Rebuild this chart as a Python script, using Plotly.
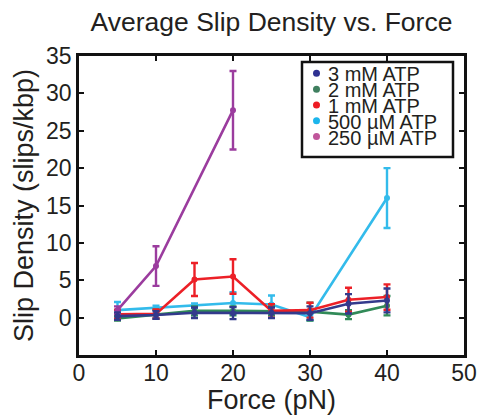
import plotly.graph_objects as go

# ---- data ----
names = ["3 mM ATP", "2 mM ATP", "1 mM ATP", "500 µM ATP", "250 µM ATP"]
colors = ["#333A8C", "#318A58", "#EC2027", "#33BBEB", "#9B3C9E"]
legend_dot_colors = ["#2E3192", "#3F7F5F", "#ED1C24", "#1CB5EC", "#C0569B"]

force_3mM = [5, 10, 15, 20, 25, 30, 35, 40]
slip_3mM = [0.2, 0.35, 0.65, 0.6, 0.65, 0.6, 1.85, 2.3]
err_3mM = [0.5, 0.5, 0.7, 0.8, 0.7, 0.9, 1.3, 1.6]

force_2mM = [5, 10, 15, 20, 25, 30, 35, 40]
slip_2mM = [-0.1, 0.45, 0.9, 0.9, 0.9, 0.8, 0.4, 1.6]
err_2mM = [0.3, 0.6, 0.6, 0.6, 0.6, 1.2, 0.6, 1.3]

force_1mM = [5, 10, 15, 20, 25, 30, 35, 40]
slip_1mM = [0.45, 0.5, 5.1, 5.5, 0.9, 1.0, 2.4, 2.75]
err_1mM = [0.6, 0.6, 2.2, 2.3, 0.9, 1.0, 1.6, 1.7]

force_500uM = [5, 10, 15, 20, 25, 30, 40]
slip_500uM = [1.0, 1.3, 1.6, 1.95, 1.75, 0.05, 16.0]
err_500uM = [1.1, 0.3, 0.3, 1.45, 1.2, 0.4, 4.0]

force_250uM = [5, 10, 20]
slip_250uM = [1.0, 6.9, 27.75]
err_250uM = [0.5, 2.65, 5.25]

x_ticks = [0, 10, 20, 30, 40, 50]
y_ticks = [0, 5, 10, 15, 20, 25, 30, 35]

series = [
    (force_3mM, slip_3mM, err_3mM),
    (force_2mM, slip_2mM, err_2mM),
    (force_1mM, slip_1mM, err_1mM),
    (force_500uM, slip_500uM, err_500uM),
    (force_250uM, slip_250uM, err_250uM),
]

FONT = "Liberation Sans, Arial, sans-serif"
TXT = "#231F20"

fig = go.Figure()
draw_order = [3, 1, 2, 4, 0]
for i in draw_order:
    fx, fy, fe = series[i]
    fig.add_trace(go.Scatter(
        x=fx, y=fy, name=names[i], mode="lines+markers",
        line=dict(color=colors[i], width=2.6),
        marker=dict(color=colors[i], size=6),
        error_y=dict(type="data", array=fe, visible=True, color=colors[i],
                     thickness=2.4, width=3.5),
        showlegend=False,
    ))

# plot-area pixel geometry
L, R, T, B = 79, 464, 56, 355
W, H = 477, 415


def px(x):
    return (x - L) / (R - L)


def py(y):
    return (B - y) / (B - T)


shapes = []
annotations = []
# manual legend box (tight MATLAB-style rows)
shapes.append(dict(type="rect", xref="paper", yref="paper",
                   x0=px(302), x1=px(453), y0=py(157), y1=py(62),
                   line=dict(color="#111", width=2.5), fillcolor="white", layer="above"))
row_y = [73.3, 89.2, 105.0, 120.8, 136.5]
for k, name in enumerate(names):
    cy = row_y[k]
    cx = 316.5
    r = 3.5
    shapes.append(dict(type="circle", xref="paper", yref="paper",
                       x0=px(cx - r), x1=px(cx + r), y0=py(cy + r), y1=py(cy - r),
                       line=dict(width=0), fillcolor=legend_dot_colors[k], layer="above"))
    annotations.append(dict(text=name, xref="paper", yref="paper",
                            x=px(326), y=py(cy + 1), xanchor="left", yanchor="middle",
                            showarrow=False, font=dict(family=FONT, size=20, color=TXT)))

fig.update_layout(
    width=W, height=H,
    margin=dict(l=L, r=W - R, t=T, b=H - B, pad=0),
    paper_bgcolor="white", plot_bgcolor="white",
    title=dict(text="Average Slip Density vs. Force", x=(L + R) / 2 / W, xanchor="center",
               y=1 - 22 / H, yanchor="middle", yref="container",
               font=dict(family=FONT, size=26.5, color=TXT)),
    font=dict(family=FONT, color=TXT),
    shapes=shapes, annotations=annotations,
    showlegend=False,
)
fig.update_xaxes(
    range=[0, 50], tickvals=x_ticks, ticktext=[str(v) for v in x_ticks],
    showgrid=False, zeroline=False, showline=True, linecolor="#111", linewidth=2.5,
    mirror="ticks", ticks="inside", ticklen=5, tickwidth=2, tickcolor="#111",
    tickfont=dict(family=FONT, size=23, color=TXT), automargin=False,
    ticklabelstandoff=-4,
    title=dict(text="Force (pN)", font=dict(family=FONT, size=27, color=TXT), standoff=10),
)
fig.update_yaxes(
    range=[-5, 35], tickvals=y_ticks, ticktext=[str(v) for v in y_ticks],
    showgrid=False, zeroline=False, showline=True, linecolor="#111", linewidth=2.5,
    mirror="ticks", ticks="inside", ticklen=5, tickwidth=2, tickcolor="#111",
    tickfont=dict(family=FONT, size=23, color=TXT), automargin=False,
    title=dict(text="Slip Density (slips/kbp)", font=dict(family=FONT, size=27, color=TXT), standoff=5),
)

fig.write_html("out.html")
